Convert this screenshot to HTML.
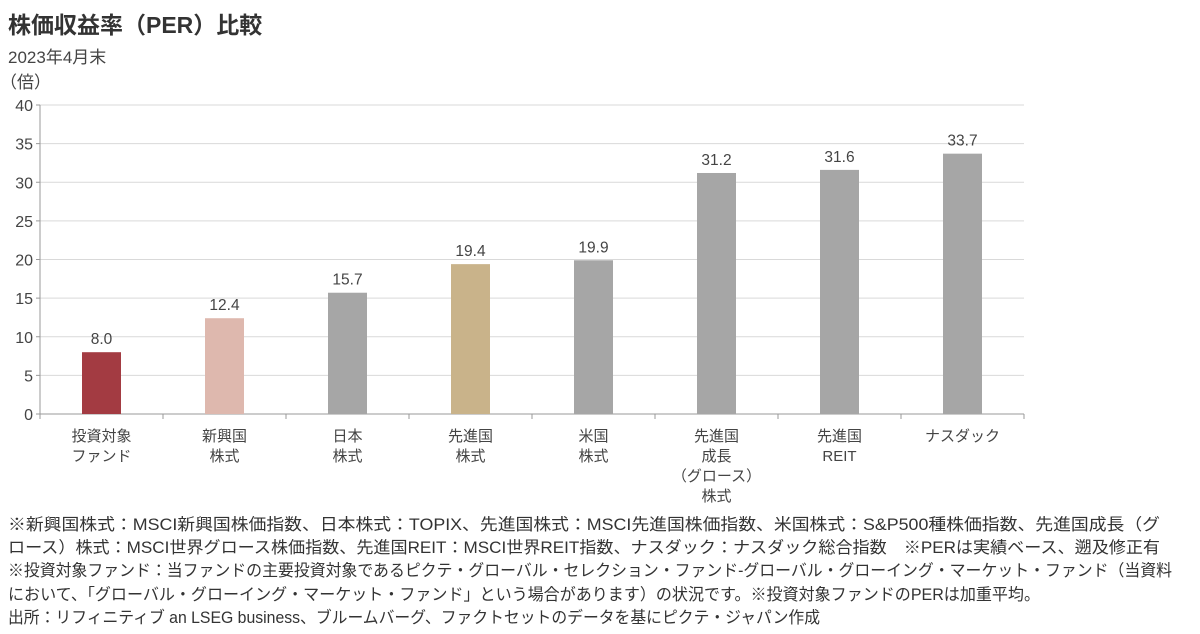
<!DOCTYPE html>
<html><head><meta charset="utf-8"><style>
body{margin:0;width:1200px;height:634px;background:#fff;font-family:"Liberation Sans","Noto Sans CJK JP",sans-serif;color:#333;overflow:hidden;position:relative}
.t{position:absolute;white-space:nowrap}
.fn span{display:inline-block;transform-origin:0 50%}
</style></head><body>
<div class="t" style="left:8px;top:6px;font-size:23px;font-weight:bold;color:#333">株価収益率（PER）比較</div>
<div class="t" style="left:8px;top:43px;font-size:17px;color:#444">2023年4月末</div>
<div class="t" style="left:0px;top:68px;font-size:17px;color:#444">（倍）</div>
<svg id="chart" width="1200" height="510" style="position:absolute;left:0;top:0"></svg>
<div class="fn" style="position:absolute;left:8px;top:514px;font-size:16.3px;line-height:23.2px;color:#333;white-space:nowrap">
<div><span data-w="1152">※新興国株式：MSCI新興国株価指数、日本株式：TOPIX、先進国株式：MSCI先進国株価指数、米国株式：S&amp;P500種株価指数、先進国成長（グ</span></div>
<div><span data-w="1152">ロース）株式：MSCI世界グロース株価指数、先進国REIT：MSCI世界REIT指数、ナスダック：ナスダック総合指数　※PERは実績ベース、遡及修正有</span></div>
<div><span data-w="1164">※投資対象ファンド：当ファンドの主要投資対象であるピクテ・グローバル・セレクション・ファンド-グローバル・グローイング・マーケット・ファンド（当資料</span></div>
<div><span data-w="1032">において、「グローバル・グローイング・マーケット・ファンド」という場合があります）の状況です。※投資対象ファンドのPERは加重平均。</span></div>
<div><span data-w="812">出所：リフィニティブ an LSEG business、ブルームバーグ、ファクトセットのデータを基にピクテ・ジャパン作成</span></div>
</div>
<script>
document.querySelectorAll('.fn span').forEach(s=>{const w=s.getBoundingClientRect().width;s.style.transform='scaleX('+(+s.dataset.w/w)+')';});
const categories=[["投資対象","ファンド"],["新興国","株式"],["日本","株式"],["先進国","株式"],["米国","株式"],["先進国","成長","（グロース）","株式"],["先進国","REIT"],["ナスダック"]];
const values=[8.0,12.4,15.7,19.4,19.9,31.2,31.6,33.7];
const colors=["#a33b42","#deb8ae","#a6a6a6","#c9b38a","#a6a6a6","#a6a6a6","#a6a6a6","#a6a6a6"];
const yTicks=[0,5,10,15,20,25,30,35,40];
const svg=document.getElementById('chart');const NS="http://www.w3.org/2000/svg";
const x0=40,x1=1024,y0=414,y1=105,bw=39;
const y=v=>y0-(v/40)*(y0-y1);
const step=(x1-x0)/categories.length;const xc=i=>x0+step*(i+0.5);
function mk(t,a,txt){const e=document.createElementNS(NS,t);for(const k in a)e.setAttribute(k,a[k]);if(txt!=null)e.textContent=txt;svg.appendChild(e);return e;}
yTicks.forEach(v=>{
 const g=mk('line',{x1:x0,x2:x1,y1:y(v),y2:y(v),stroke:v===0?'#999':'#d9d9d9','stroke-width':1});
 
 const tk=mk('line',{x1:x0-4,x2:x0,y1:y(v),y2:y(v),stroke:'#999'});
 
 const t=mk('text',{x:x0-7,y:y(v)+6,'text-anchor':'end','font-size':16,fill:'#444'},v);
 
});
const ax=mk('line',{x1:x0,x2:x0,y1:y1,y2:y0+4,stroke:'#999'});

for(let i=0;i<=categories.length;i++){const tk=mk('line',{x1:x0+step*i,x2:x0+step*i,y1:y0,y2:y0+5,stroke:'#999'});
 }
values.forEach((v,i)=>{
 const r=mk('rect',{x:xc(i)-bw/2,y:y(v),width:bw,height:y0-y(v),fill:colors[i]});
 
 const l=mk('text',{x:xc(i),y:y(v)-8,'text-anchor':'middle','font-size':15.5,fill:'#444'},v.toFixed(1));
 
 categories[i].forEach((s,j)=>{const c=mk('text',{x:xc(i),y:441+j*20,'text-anchor':'middle','font-size':15,fill:'#444'},s);
  });
});
</script>
</body></html>
